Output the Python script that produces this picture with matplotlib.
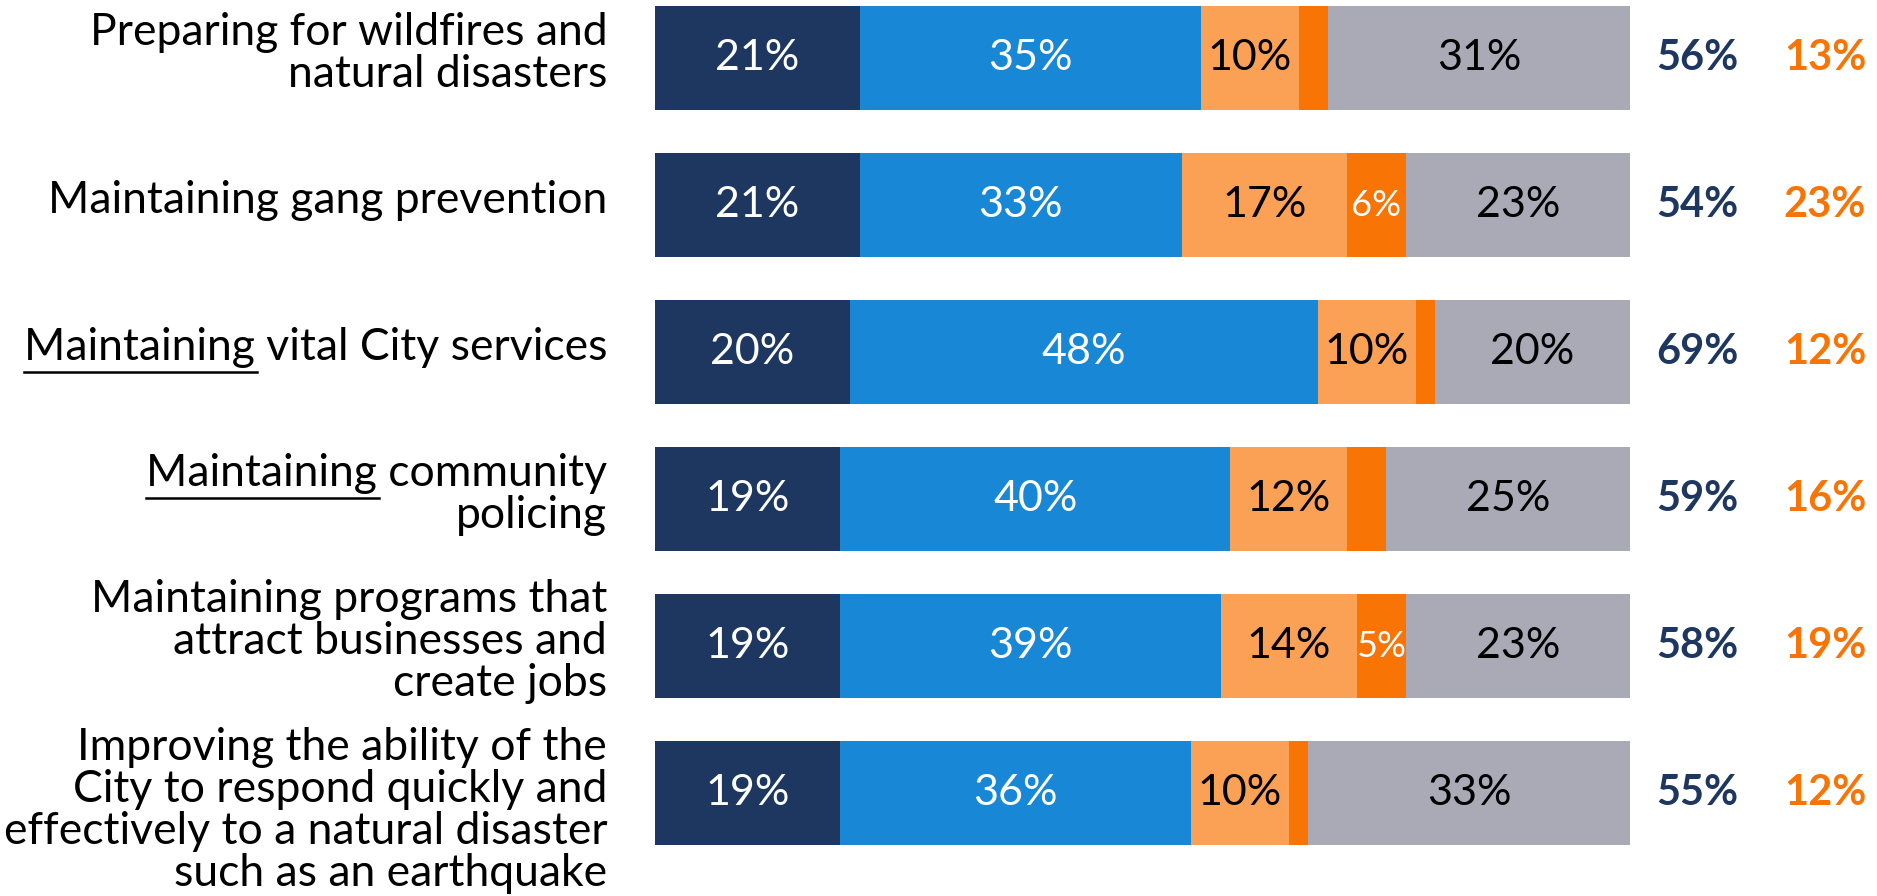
import matplotlib
matplotlib.use("Agg")
import matplotlib.pyplot as plt
from matplotlib.lines import Line2D
from matplotlib.transforms import offset_copy
import numpy as np

plt.rcParams['font.family'] = ['Lato', 'DejaVu Sans']

categories = [
    "Preparing for wildfires and\nnatural disasters",
    "Maintaining gang prevention",
    "Maintaining vital City services",
    "Maintaining community\npolicing",
    "Maintaining programs that\nattract businesses and\ncreate jobs",
    "Improving the ability of the\nCity to respond quickly and\neffectively to a natural disaster\nsuch as an earthquake",
]
underlined = [False, False, True, True, False, False]
underline_word = "Maintaining"

very_important = [21, 21, 20, 19, 19, 19]
somewhat_important = [35, 33, 48, 40, 39, 36]
not_too_important = [10, 17, 10, 12, 14, 10]
not_at_all_important = [3, 6, 2, 4, 5, 2]
other = [31, 23, 20, 25, 23, 33]
total_important = ["56%", "54%", "69%", "59%", "58%", "55%"]
total_not_important = ["13%", "23%", "12%", "16%", "19%", "12%"]

series = [very_important, somewhat_important, not_too_important, not_at_all_important, other]
colors = ["#1E3761", "#1888D6", "#FBA155", "#F77405", "#A9AAB6"]
text_colors = ["white", "white", "black", "white", "black"]
min_label = [0, 0, 0, 5, 0]
label_size = [31, 31, 31, 26, 31]
LABEL_FS = 32
LINE_PX = 42            # line pitch of category labels, pixels
BASE_SHIFT = [8, 8, 8, 8, 8, 30]   # block baseline shift below bar centre, pixels

W, H = 1877, 896
fig = plt.figure(figsize=(W / 100, H / 100), dpi=100)
ax = fig.add_axes([655 / W, 0, (1630 - 655) / W, 1])

y = np.arange(len(categories))
left = np.zeros(len(categories))
for vals, col, tcol, mn, fs in zip(series, colors, text_colors, min_label, label_size):
    vals = np.array(vals, dtype=float)
    ax.barh(y, vals, left=left, height=0.71, color=col, edgecolor='none')
    for yi, (l, v) in enumerate(zip(left, vals)):
        if v >= max(mn, 1):
            ax.text(l + v / 2, yi, f"{int(v)}%", ha='center', va='center',
                    color=tcol, fontsize=fs)
    left += vals

ax.set_xlim(0, 100)
ax.set_ylim(5.70, -0.395)
ax.axis('off')

for yi, (a, b) in enumerate(zip(total_important, total_not_important)):
    ax.text(106.9, yi, a, ha='center', va='center', color="#1E3761",
            fontsize=30, fontweight='bold', clip_on=False)
    ax.text(120.0, yi, b, ha='center', va='center', color="#F77405",
            fontsize=30, fontweight='bold', clip_on=False)

fig.canvas.draw()
r = fig.canvas.get_renderer()
inv = fig.transFigure.inverted()
for yi, lab in enumerate(categories):
    lines = lab.split('\n')
    n = len(lines)
    first = BASE_SHIFT[yi] - (n - 1) * LINE_PX / 2
    first_text = None
    for k, line in enumerate(lines):
        dy = -(first + k * LINE_PX)
        tr = offset_copy(ax.transData, fig=fig, x=0, y=dy, units='dots')
        t = ax.text(-4.9, yi, line, ha='right', va='baseline', fontsize=LABEL_FS,
                    color='black', clip_on=False, transform=tr)
        if k == 0:
            first_text = t
    if underlined[yi]:
        bb = first_text.get_window_extent(r)
        tmp = fig.text(0, 0, underline_word, fontsize=LABEL_FS)
        w_word = tmp.get_window_extent(r).width
        tmp.remove()
        x1 = bb.x0
        x2 = x1 + w_word + 2
        base_disp = ax.transData.transform((0, yi))[1] - first
        yy = base_disp - 12
        p1 = inv.transform((x1, yy))
        p2 = inv.transform((x2, yy))
        fig.add_artist(Line2D([p1[0], p2[0]], [p1[1], p2[1]], color='black', lw=1.8))

fig.savefig("out.png", dpi=100)
